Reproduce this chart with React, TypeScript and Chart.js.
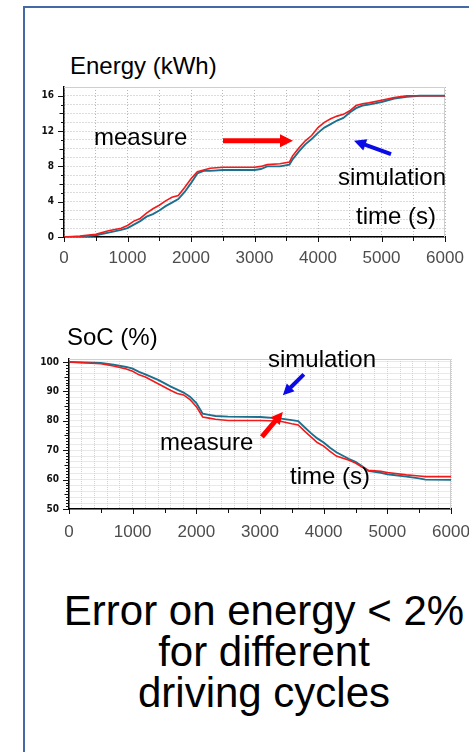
import React, { useEffect, useRef } from 'react';
import { Chart, registerables } from 'chart.js';

Chart.register(...registerables);

// ---------------- data ----------------
const energyTimes = [0, 250, 500, 700, 900, 1000, 1100, 1200, 1300, 1400, 1500, 1600, 1700, 1800, 1900, 2000, 2100, 2200, 2300, 2500, 3000, 3100, 3200, 3400, 3550, 3600, 3700, 3800, 3900, 4000, 4100, 4200, 4300, 4400, 4500, 4600, 4700, 4800, 5000, 5200, 5400, 5600, 6000];
const energyMeasure = [0, 0.1, 0.3, 0.7, 1.0, 1.3, 1.8, 2.1, 2.7, 3.2, 3.6, 4.1, 4.5, 4.7, 5.6, 6.6, 7.4, 7.6, 7.8, 7.9, 7.9, 8.0, 8.2, 8.3, 8.5, 9.2, 10.1, 10.9, 11.5, 12.4, 13.0, 13.4, 13.7, 13.9, 14.3, 14.9, 15.1, 15.2, 15.5, 15.8, 16.0, 16.0, 16.0];
const energySimulation = [0, 0, 0.2, 0.5, 0.8, 1.0, 1.4, 1.8, 2.3, 2.6, 3.0, 3.5, 3.9, 4.3, 5.1, 6.1, 7.2, 7.5, 7.5, 7.6, 7.6, 7.7, 8.0, 8.0, 8.2, 8.8, 9.7, 10.5, 11.1, 11.8, 12.4, 12.8, 13.2, 13.5, 14.1, 14.6, 14.9, 15.0, 15.3, 15.7, 15.9, 16.0, 16.0];

const socTimes = [0, 500, 700, 900, 1000, 1100, 1200, 1400, 1600, 1700, 1800, 1900, 2000, 2100, 2200, 2300, 2500, 3000, 3300, 3500, 3600, 3700, 3800, 3900, 4000, 4100, 4200, 4400, 4500, 4600, 4700, 4900, 5000, 5300, 5500, 5600, 6000];
const socMeasure = [100, 99.4, 98.6, 97.6, 96.8, 95.6, 94.9, 92.6, 90.3, 89.3, 88.8, 87.2, 84.8, 81.3, 80.9, 80.5, 80.1, 80.1, 79.9, 79.0, 78.6, 76.5, 74.5, 72.6, 71.4, 69.6, 68.0, 66.6, 65.6, 64.3, 63.2, 62.8, 62.4, 61.6, 61.2, 61.0, 61.0];
const socSimulation = [100, 99.7, 99.1, 98.3, 97.7, 96.6, 95.8, 93.9, 91.6, 90.6, 89.6, 88.2, 86.0, 82.4, 82.0, 81.6, 81.4, 81.3, 80.8, 80.2, 79.9, 77.8, 75.8, 74.0, 72.6, 70.8, 69.3, 67.0, 66.0, 64.6, 63.0, 62.3, 61.8, 61.0, 60.4, 60.0, 59.9];

const timeTickLabels = [0, 1000, 2000, 3000, 4000, 5000, 6000];
const energyTickLabels = [0, 4, 8, 12, 16];
const socTickLabels = [50, 60, 70, 80, 90, 100];

// annotation arrows, in data coordinates [time, value]
const energyArrowTails = [[2504, 10.9], [5150, 9.4]];
const energyArrowTips = [[3606, 10.9], [4567, 10.9]];
const socArrowTails = [[3689, 95.8], [3030, 74.5]];
const socArrowTips = [[3359, 88.7], [3359, 83.0]];

const footerLines = ['Error on energy < 2%', 'for different', 'driving cycles'];

// ---------------- styles ----------------
const SANS = "'Liberation Sans', Arial, Helvetica, sans-serif";
const NARROW = "'Liberation Sans Narrow', 'DejaVu Sans Condensed', 'Liberation Sans', sans-serif";
const RED = '#f21a1a';
const TEAL = '#1c6f8d';
const ARROW_RED = '#ff0000';
const ARROW_BLUE = '#0a0ae6';

type Cfg = {
  top: number;
  height: number;
  padTop: number;
  padRight: number;
  xHeight: number;
  yWidth: number;
  xPad: number;
  yMin: number;
  yMax: number;
  yGridStep: number;
  xGridStep: number;
  yMinorTick: number;
  yMidTick: number;
  yMajorTick: number;
  yTickTop: number;
  yLabels: number[];
  gridColor: string;
  gridDash: number[];
  times: number[];
  measure: number[];
  simulation: number[];
  tails: number[][];
  tips: number[][];
  arrowColors: string[];
  arrowShaft: number[];
  arrowHead: number[];
};

function drawArrow(ctx: CanvasRenderingContext2D, x1: number, y1: number, x2: number, y2: number, color: string, shaft: number, head: number) {
  const ang = Math.atan2(y2 - y1, x2 - x1);
  const bx = x2 - head * Math.cos(ang);
  const by = y2 - head * Math.sin(ang);
  ctx.strokeStyle = color;
  ctx.lineWidth = shaft;
  ctx.lineCap = 'butt';
  ctx.beginPath();
  ctx.moveTo(x1, y1);
  ctx.lineTo(bx + 0.5 * Math.cos(ang), by + 0.5 * Math.sin(ang));
  ctx.stroke();
  const hw = head / 2;
  ctx.fillStyle = color;
  ctx.beginPath();
  ctx.moveTo(x2, y2);
  ctx.lineTo(bx + hw * Math.sin(ang), by - hw * Math.cos(ang));
  ctx.lineTo(bx - hw * Math.sin(ang), by + hw * Math.cos(ang));
  ctx.closePath();
  ctx.fill();
}

function makeDecor(cfg: Cfg) {
  return {
    id: 'decor',
    beforeDatasetsDraw(chart: any) {
      const { ctx, chartArea: a, scales } = chart;
      ctx.save();
      // light box on top/right
      ctx.strokeStyle = '#cfcfcf';
      ctx.lineWidth = 1;
      ctx.setLineDash([]);
      ctx.beginPath();
      ctx.moveTo(a.left, a.top + 0.5);
      ctx.lineTo(a.right - 0.5, a.top + 0.5);
      ctx.lineTo(a.right - 0.5, a.bottom);
      ctx.stroke();
      // y tick marks
      ctx.strokeStyle = '#111';
      ctx.lineWidth = 1;
      for (let v = cfg.yMin; v <= cfg.yTickTop; v += cfg.yMinorTick) {
        const y = Math.round(scales.y.getPixelForValue(v)) + 0.5;
        const rel = v - cfg.yMin;
        const len = rel % cfg.yMajorTick === 0 ? 6 : rel % cfg.yMidTick === 0 ? 4.5 : 3;
        ctx.beginPath();
        ctx.moveTo(a.left - len, y);
        ctx.lineTo(a.left, y);
        ctx.stroke();
      }
      // x tick marks below axis
      for (let t = 0; t <= 6000; t += 500) {
        const x = Math.round(scales.x.getPixelForValue(t)) + 0.5;
        const len = t % 1000 === 0 ? 5 : 4;
        ctx.beginPath();
        ctx.moveTo(x, a.bottom);
        ctx.lineTo(x, a.bottom + len);
        ctx.stroke();
      }
      ctx.restore();
    },
    afterDatasetsDraw(chart: any) {
      const { ctx, scales } = chart;
      ctx.save();
      cfg.tails.forEach((tail, i) => {
        const tip = cfg.tips[i];
        drawArrow(
          ctx,
          scales.x.getPixelForValue(tail[0]),
          scales.y.getPixelForValue(tail[1]),
          scales.x.getPixelForValue(tip[0]),
          scales.y.getPixelForValue(tip[1]),
          cfg.arrowColors[i],
          cfg.arrowShaft[i],
          cfg.arrowHead[i]
        );
      });
      ctx.restore();
    },
  };
}

function LineChart({ cfg }: { cfg: Cfg }) {
  const ref = useRef<HTMLCanvasElement>(null);
  useEffect(() => {
    const canvas = ref.current!;
    const chart = new Chart(canvas, {
      type: 'line',
      data: {
        datasets: [
          {
            label: 'measure',
            data: cfg.times.map((t, i) => ({ x: t, y: cfg.measure[i] })),
            borderColor: RED,
            borderWidth: 1.6,
            pointRadius: 0,
            tension: 0,
            fill: false,
          },
          {
            label: 'simulation',
            data: cfg.times.map((t, i) => ({ x: t, y: cfg.simulation[i] })),
            borderColor: TEAL,
            borderWidth: 1.9,
            pointRadius: 0,
            tension: 0,
            fill: false,
          },
        ],
      },
      options: {
        animation: false,
        responsive: false,
        maintainAspectRatio: false,
        events: [],
        layout: { padding: { left: 0, right: cfg.padRight, top: cfg.padTop, bottom: 0 } },
        plugins: {
          legend: { display: false },
          tooltip: { enabled: false },
          title: { display: false },
        },
        scales: {
          x: {
            type: 'linear',
            min: 0,
            max: 6000,
            ticks: {
              stepSize: cfg.xGridStep,
              autoSkip: false,
              maxRotation: 0,
              minRotation: 0,
              padding: cfg.xPad,
              color: '#4d4d4d',
              font: { family: SANS, size: 17 },
              callback: (v: any) => (timeTickLabels.includes(Number(v)) ? String(v) : ''),
            },
            grid: { color: cfg.gridColor, lineWidth: 1, drawTicks: false },
            border: { display: true, color: '#000', width: 1.5, dash: cfg.gridDash },
            afterFit: (s: any) => {
              s.height = cfg.xHeight;
              s.paddingLeft = 0;
              s.paddingRight = 0;
            },
          },
          y: {
            type: 'linear',
            min: cfg.yMin,
            max: cfg.yMax,
            ticks: {
              stepSize: cfg.yGridStep,
              autoSkip: false,
              includeBounds: false,
              padding: 10,
              color: '#111',
              font: { family: NARROW, size: 10, weight: 'bold' },
              callback: (v: any) => (cfg.yLabels.includes(Number(v)) ? String(v) : ''),
            },
            grid: { color: cfg.gridColor, lineWidth: 1, drawTicks: false },
            border: { display: true, color: '#000', width: 1.5, dash: cfg.gridDash },
            afterFit: (s: any) => {
              s.width = cfg.yWidth;
              s.paddingTop = 0;
              s.paddingBottom = 0;
            },
          },
        },
      } as any,
      plugins: [makeDecor(cfg)],
    });
    return () => chart.destroy();
  }, []);
  return (
    <canvas
      ref={ref}
      width={469}
      height={cfg.height}
      style={{ position: 'absolute', left: 0, top: cfg.top, width: 469, height: cfg.height, display: 'block' }}
    />
  );
}

const energyCfg: Cfg = {
  top: 80,
  height: 200,
  padTop: 7,
  padRight: 24,
  xHeight: 43,
  yWidth: 64,
  xPad: 11,
  yMin: 0,
  yMax: 17,
  yGridStep: 1,
  xGridStep: 500,
  yMinorTick: 1,
  yMidTick: 2,
  yMajorTick: 4,
  yTickTop: 16,
  yLabels: energyTickLabels,
  gridColor: '#b8b8b8',
  gridDash: [1, 2],
  times: energyTimes,
  measure: energyMeasure,
  simulation: energySimulation,
  tails: energyArrowTails,
  tips: energyArrowTips,
  arrowColors: [ARROW_RED, ARROW_BLUE],
  arrowShaft: [5, 4],
  arrowHead: [13, 12],
};

const socCfg: Cfg = {
  top: 340,
  height: 215,
  padTop: 19,
  padRight: 18,
  xHeight: 46,
  yWidth: 69,
  xPad: 13,
  yMin: 50,
  yMax: 101,
  yGridStep: 2,
  xGridStep: 200,
  yMinorTick: 1,
  yMidTick: 5,
  yMajorTick: 10,
  yTickTop: 100,
  yLabels: socTickLabels,
  gridColor: '#d2d2d2',
  gridDash: [1, 1],
  times: socTimes,
  measure: socMeasure,
  simulation: socSimulation,
  tails: socArrowTails,
  tips: socArrowTips,
  arrowColors: [ARROW_BLUE, ARROW_RED],
  arrowShaft: [4, 5],
  arrowHead: [11, 12],
};

function Label({ text, left, baseline }: { text: string; left: number; baseline: number }) {
  return (
    <div
      style={{
        position: 'absolute',
        left,
        top: baseline - 20.3,
        fontFamily: SANS,
        fontSize: 24,
        lineHeight: '24px',
        color: '#000',
        whiteSpace: 'nowrap',
      }}
    >
      {text}
    </div>
  );
}

export default function App() {
  return (
    <div
      style={{
        position: 'fixed',
        left: 0,
        top: 0,
        width: 469,
        height: 752,
        overflow: 'hidden',
        background: '#fff',
      }}
    >
      <div
        style={{
          position: 'absolute',
          left: 23,
          top: 6,
          width: 480,
          height: 800,
          borderTop: '2px solid #4469a4',
          borderLeft: '2px solid #4469a4',
        }}
      />
      <LineChart cfg={energyCfg} />
      <LineChart cfg={socCfg} />
      <Label text="Energy (kWh)" left={70} baseline={74} />
      <Label text="measure" left={94} baseline={145} />
      <Label text="simulation" left={338} baseline={185} />
      <Label text="time (s)" left={356} baseline={224} />
      <Label text="SoC (%)" left={67} baseline={345} />
      <Label text="simulation" left={268} baseline={367} />
      <Label text="measure" left={160} baseline={450} />
      <Label text="time (s)" left={290} baseline={484} />
      <div
        style={{
          position: 'absolute',
          left: 24,
          top: 590,
          width: 480,
          textAlign: 'center',
          fontFamily: SANS,
          fontSize: 42,
          lineHeight: '41px',
          color: '#000',
          whiteSpace: 'nowrap',
        }}
      >
        {footerLines.map((l) => (
          <div key={l}>{l}</div>
        ))}
      </div>
    </div>
  );
}
